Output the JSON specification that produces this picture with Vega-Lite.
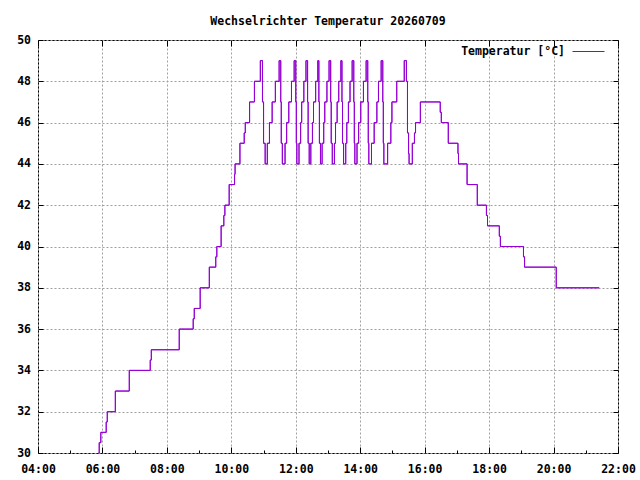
{
  "$schema": "https://vega.github.io/schema/vega-lite/v6.json",
  "width": 580,
  "height": 413,
  "autosize": {"type": "none"},
  "padding": {"left": 38, "top": 40, "right": 22, "bottom": 27},
  "title": {
    "text": "Wechselrichter Temperatur 20260709",
    "frame": "group",
    "anchor": "middle",
    "offset": -2,
    "baseline": "alphabetic",
    "font": "DejaVu Sans Mono",
    "fontSize": 11.5,
    "fontWeight": "bold",
    "color": "black"
  },
  "data": {
    "values": [
      {"t": "2026-07-09T05:53", "v": 30},
      {"t": "2026-07-09T05:54", "v": 30.5},
      {"t": "2026-07-09T05:57", "v": 31},
      {"t": "2026-07-09T06:07", "v": 31.5},
      {"t": "2026-07-09T06:09", "v": 32},
      {"t": "2026-07-09T06:24", "v": 33},
      {"t": "2026-07-09T06:50", "v": 34},
      {"t": "2026-07-09T07:29", "v": 34.5},
      {"t": "2026-07-09T07:31", "v": 35},
      {"t": "2026-07-09T08:23", "v": 36},
      {"t": "2026-07-09T08:49", "v": 36.5},
      {"t": "2026-07-09T08:51", "v": 37},
      {"t": "2026-07-09T09:02", "v": 38},
      {"t": "2026-07-09T09:19", "v": 39},
      {"t": "2026-07-09T09:31", "v": 39.5},
      {"t": "2026-07-09T09:33", "v": 40},
      {"t": "2026-07-09T09:41", "v": 41},
      {"t": "2026-07-09T09:46", "v": 41.5},
      {"t": "2026-07-09T09:48", "v": 42},
      {"t": "2026-07-09T09:56", "v": 43},
      {"t": "2026-07-09T10:06", "v": 43.5},
      {"t": "2026-07-09T10:07", "v": 44},
      {"t": "2026-07-09T10:16", "v": 45},
      {"t": "2026-07-09T10:24", "v": 45.5},
      {"t": "2026-07-09T10:26", "v": 46},
      {"t": "2026-07-09T10:34", "v": 47},
      {"t": "2026-07-09T10:43", "v": 48},
      {"t": "2026-07-09T10:54", "v": 49},
      {"t": "2026-07-09T10:58", "v": 47},
      {"t": "2026-07-09T11:00", "v": 45},
      {"t": "2026-07-09T11:03", "v": 44},
      {"t": "2026-07-09T11:07", "v": 45},
      {"t": "2026-07-09T11:11", "v": 46},
      {"t": "2026-07-09T11:16", "v": 47},
      {"t": "2026-07-09T11:22", "v": 48},
      {"t": "2026-07-09T11:29", "v": 49},
      {"t": "2026-07-09T11:32", "v": 47},
      {"t": "2026-07-09T11:33", "v": 45},
      {"t": "2026-07-09T11:35", "v": 44},
      {"t": "2026-07-09T11:40", "v": 45},
      {"t": "2026-07-09T11:43", "v": 46},
      {"t": "2026-07-09T11:47", "v": 47},
      {"t": "2026-07-09T11:52", "v": 48},
      {"t": "2026-07-09T11:57", "v": 49},
      {"t": "2026-07-09T12:00", "v": 47},
      {"t": "2026-07-09T12:01", "v": 45},
      {"t": "2026-07-09T12:02", "v": 44},
      {"t": "2026-07-09T12:06", "v": 45},
      {"t": "2026-07-09T12:09", "v": 46},
      {"t": "2026-07-09T12:11", "v": 47},
      {"t": "2026-07-09T12:15", "v": 48},
      {"t": "2026-07-09T12:19", "v": 49},
      {"t": "2026-07-09T12:22", "v": 47},
      {"t": "2026-07-09T12:23", "v": 45},
      {"t": "2026-07-09T12:25", "v": 44},
      {"t": "2026-07-09T12:28", "v": 45},
      {"t": "2026-07-09T12:31", "v": 46},
      {"t": "2026-07-09T12:33", "v": 47},
      {"t": "2026-07-09T12:37", "v": 48},
      {"t": "2026-07-09T12:41", "v": 49},
      {"t": "2026-07-09T12:43", "v": 47},
      {"t": "2026-07-09T12:44", "v": 45},
      {"t": "2026-07-09T12:46", "v": 44},
      {"t": "2026-07-09T12:49", "v": 45},
      {"t": "2026-07-09T12:52", "v": 46},
      {"t": "2026-07-09T12:54", "v": 47},
      {"t": "2026-07-09T12:58", "v": 48},
      {"t": "2026-07-09T13:02", "v": 49},
      {"t": "2026-07-09T13:05", "v": 47},
      {"t": "2026-07-09T13:06", "v": 45},
      {"t": "2026-07-09T13:08", "v": 44},
      {"t": "2026-07-09T13:12", "v": 45},
      {"t": "2026-07-09T13:14", "v": 46},
      {"t": "2026-07-09T13:17", "v": 47},
      {"t": "2026-07-09T13:20", "v": 48},
      {"t": "2026-07-09T13:24", "v": 49},
      {"t": "2026-07-09T13:26", "v": 47},
      {"t": "2026-07-09T13:27", "v": 45},
      {"t": "2026-07-09T13:29", "v": 44},
      {"t": "2026-07-09T13:33", "v": 45},
      {"t": "2026-07-09T13:35", "v": 46},
      {"t": "2026-07-09T13:38", "v": 47},
      {"t": "2026-07-09T13:41", "v": 48},
      {"t": "2026-07-09T13:45", "v": 49},
      {"t": "2026-07-09T13:48", "v": 47},
      {"t": "2026-07-09T13:49", "v": 45},
      {"t": "2026-07-09T13:50", "v": 44},
      {"t": "2026-07-09T13:54", "v": 45},
      {"t": "2026-07-09T13:57", "v": 46},
      {"t": "2026-07-09T14:01", "v": 47},
      {"t": "2026-07-09T14:06", "v": 48},
      {"t": "2026-07-09T14:11", "v": 49},
      {"t": "2026-07-09T14:14", "v": 47},
      {"t": "2026-07-09T14:15", "v": 45},
      {"t": "2026-07-09T14:16", "v": 44},
      {"t": "2026-07-09T14:21", "v": 45},
      {"t": "2026-07-09T14:26", "v": 46},
      {"t": "2026-07-09T14:31", "v": 47},
      {"t": "2026-07-09T14:34", "v": 48},
      {"t": "2026-07-09T14:39", "v": 49},
      {"t": "2026-07-09T14:42", "v": 47},
      {"t": "2026-07-09T14:43", "v": 45},
      {"t": "2026-07-09T14:44", "v": 44},
      {"t": "2026-07-09T14:51", "v": 45},
      {"t": "2026-07-09T14:57", "v": 46},
      {"t": "2026-07-09T14:59", "v": 47},
      {"t": "2026-07-09T15:08", "v": 48},
      {"t": "2026-07-09T15:22", "v": 49},
      {"t": "2026-07-09T15:26", "v": 48},
      {"t": "2026-07-09T15:28", "v": 45.5},
      {"t": "2026-07-09T15:30", "v": 44.5},
      {"t": "2026-07-09T15:31", "v": 44},
      {"t": "2026-07-09T15:37", "v": 45},
      {"t": "2026-07-09T15:41", "v": 45.5},
      {"t": "2026-07-09T15:43", "v": 46},
      {"t": "2026-07-09T15:52", "v": 47},
      {"t": "2026-07-09T16:29", "v": 46.5},
      {"t": "2026-07-09T16:31", "v": 46},
      {"t": "2026-07-09T16:44", "v": 45},
      {"t": "2026-07-09T17:02", "v": 44.5},
      {"t": "2026-07-09T17:03", "v": 44},
      {"t": "2026-07-09T17:19", "v": 43},
      {"t": "2026-07-09T17:38", "v": 42},
      {"t": "2026-07-09T17:55", "v": 41.5},
      {"t": "2026-07-09T17:57", "v": 41},
      {"t": "2026-07-09T18:19", "v": 40.5},
      {"t": "2026-07-09T18:21", "v": 40},
      {"t": "2026-07-09T19:04", "v": 39.5},
      {"t": "2026-07-09T19:06", "v": 39},
      {"t": "2026-07-09T20:05", "v": 38},
      {"t": "2026-07-09T21:25", "v": 38}
    ]
  },
  "layer": [
    {
      "mark": {"type": "line", "interpolate": "step-after", "strokeWidth": 1},
      "encoding": {
        "x": {
          "field": "t",
          "type": "temporal",
          "title": null,
          "scale": {
            "domain": [
              {"year": 2026, "month": 7, "date": 9, "hours": 4},
              {"year": 2026, "month": 7, "date": 9, "hours": 22}
            ],
            "nice": false
          },
          "axis": {
            "orient": "bottom",
            "values": [
              {"year": 2026, "month": 7, "date": 9, "hours": 4},
              {"year": 2026, "month": 7, "date": 9, "hours": 5},
              {"year": 2026, "month": 7, "date": 9, "hours": 6},
              {"year": 2026, "month": 7, "date": 9, "hours": 7},
              {"year": 2026, "month": 7, "date": 9, "hours": 8},
              {"year": 2026, "month": 7, "date": 9, "hours": 9},
              {"year": 2026, "month": 7, "date": 9, "hours": 10},
              {"year": 2026, "month": 7, "date": 9, "hours": 11},
              {"year": 2026, "month": 7, "date": 9, "hours": 12},
              {"year": 2026, "month": 7, "date": 9, "hours": 13},
              {"year": 2026, "month": 7, "date": 9, "hours": 14},
              {"year": 2026, "month": 7, "date": 9, "hours": 15},
              {"year": 2026, "month": 7, "date": 9, "hours": 16},
              {"year": 2026, "month": 7, "date": 9, "hours": 17},
              {"year": 2026, "month": 7, "date": 9, "hours": 18},
              {"year": 2026, "month": 7, "date": 9, "hours": 19},
              {"year": 2026, "month": 7, "date": 9, "hours": 20},
              {"year": 2026, "month": 7, "date": 9, "hours": 21},
              {"year": 2026, "month": 7, "date": 9, "hours": 22}
            ],
            "labelExpr": "hours(datum.value) % 2 == 0 ? timeFormat(datum.value, '%H:%M') : ''",
            "labelFlush": false,
            "labelOverlap": false,
            "labelPadding": 16,
            "grid": true,
            "gridOpacity": {"condition": {"test": "hours(datum.value) % 2 == 1", "value": 0}, "value": 1},
            "tickSize": -6,
            "tickDash": {"condition": {"test": "hours(datum.value) % 2 == 1", "value": [3, 20]}, "value": []}
          }
        },
        "y": {
          "field": "v",
          "type": "quantitative",
          "title": null,
          "scale": {"domain": [30, 50], "nice": false, "zero": false},
          "axis": {
            "orient": "left",
            "values": [30, 32, 34, 36, 38, 40, 42, 44, 46, 48, 50],
            "tickSize": -5,
            "labelPadding": 12.5,
            "labelFlush": false,
            "grid": true
          }
        },
        "color": {
          "datum": "Temperatur [°C]",
          "scale": {"range": ["#9400d3"]},
          "legend": {
            "title": null,
            "orient": "none",
            "legendX": 534,
            "legendY": -5,
            "padding": 0,
            "symbolType": "stroke",
            "symbolSize": 1024,
            "symbolStrokeWidth": 1,
            "labelAlign": "right",
            "labelOffset": -40,
            "labelFont": "DejaVu Sans Mono",
            "labelFontSize": 11.5,
            "labelFontWeight": "bold",
            "labelColor": "black"
          }
        }
      }
    },
    {
      "mark": {"type": "line", "interpolate": "step-after", "strokeWidth": 1, "color": "#9400d3"},
      "encoding": {
        "x": {
          "field": "t",
          "type": "temporal",
          "axis": {
            "orient": "top",
            "title": null,
            "labels": false,
            "grid": false,
            "values": [
              {"year": 2026, "month": 7, "date": 9, "hours": 4},
              {"year": 2026, "month": 7, "date": 9, "hours": 6},
              {"year": 2026, "month": 7, "date": 9, "hours": 8},
              {"year": 2026, "month": 7, "date": 9, "hours": 10},
              {"year": 2026, "month": 7, "date": 9, "hours": 12},
              {"year": 2026, "month": 7, "date": 9, "hours": 14},
              {"year": 2026, "month": 7, "date": 9, "hours": 16},
              {"year": 2026, "month": 7, "date": 9, "hours": 18},
              {"year": 2026, "month": 7, "date": 9, "hours": 20},
              {"year": 2026, "month": 7, "date": 9, "hours": 22}
            ],
            "tickSize": -6
          }
        },
        "y": {
          "field": "v",
          "type": "quantitative",
          "axis": {
            "orient": "right",
            "title": null,
            "labels": false,
            "grid": false,
            "values": [30, 32, 34, 36, 38, 40, 42, 44, 46, 48, 50],
            "tickSize": -5
          }
        }
      }
    }
  ],
  "resolve": {"axis": {"x": "independent", "y": "independent"}},
  "config": {
    "view": {"stroke": "black", "strokeWidth": 1},
    "axis": {
      "domain": false,
      "tickColor": "black",
      "gridColor": "#a0a0a0",
      "gridDash": [2, 2],
      "gridWidth": 1,
      "labelFont": "DejaVu Sans Mono",
      "labelFontSize": 11.5,
      "labelFontWeight": "bold",
      "labelColor": "black"
    }
  }
}
